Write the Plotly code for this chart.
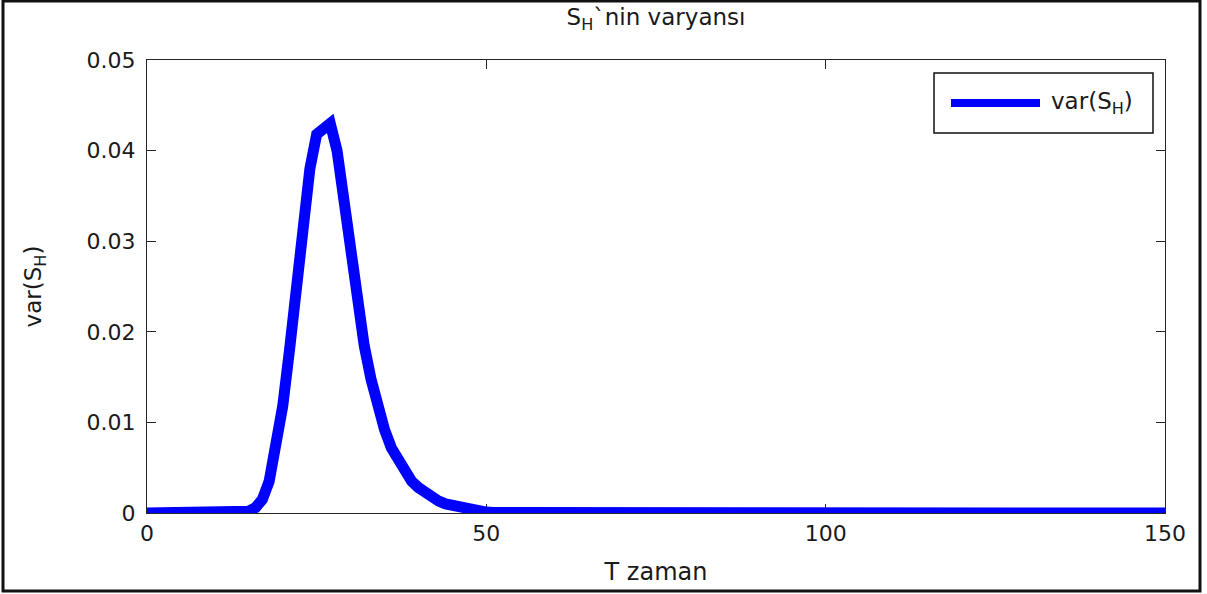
import plotly.graph_objects as go

# Time axis (T zaman) and the variance of S_H at each step
t_values = list(range(0, 151))
var_nonzero = {
    15: 0.0002, 16: 0.0006, 17: 0.0015, 18: 0.0035, 19: 0.0070,
    20: 0.0118, 21: 0.0180, 22: 0.0250, 23: 0.0320, 24: 0.0380,
    25: 0.0418, 26: 0.0424, 27: 0.0430, 28: 0.0400, 29: 0.0345,
    30: 0.0285, 31: 0.0230, 32: 0.0185, 33: 0.0148, 34: 0.0118,
    35: 0.0092, 36: 0.0072, 37: 0.0058, 38: 0.0045, 39: 0.0035,
    40: 0.0028, 41: 0.0022, 42: 0.0017, 43: 0.0013, 44: 0.0010,
    45: 0.0008, 46: 0.0006, 47: 0.0004, 48: 0.0003, 49: 0.0002,
    50: 0.0001, 51: 0.00005, 52: 0.00005,
}
var_sh = [var_nonzero.get(t, 0.0) for t in t_values]

x_ticks = [0, 50, 100, 150]
y_ticks = [0, 0.01, 0.02, 0.03, 0.04, 0.05]
y_tick_text = ["0", "0.01", "0.02", "0.03", "0.04", "0.05"]

series_name = "var(S<sub>H</sub>)"
LINE_COLOR = "#0000ff"
TEXT_COLOR = "#1a1a1a"
FONT = "DejaVu Sans, Arial, sans-serif"

W, H = 1207, 594
L, R, T, B = 147, 42, 60, 81
pw, ph = W - L - R, H - T - B


def px_x(px):
    """Pixel column -> paper x."""
    return (px - L) / pw


def px_y(py):
    """Pixel row -> paper y."""
    return (H - B - py) / ph


fig = go.Figure()
fig.add_trace(go.Scatter(
    x=t_values, y=var_sh, mode="lines",
    line=dict(color=LINE_COLOR, width=11),
    name=series_name, showlegend=False,
))

axis_common = dict(
    showline=True, linecolor="#262626", linewidth=1.2, mirror="allticks",
    ticks="inside", ticklen=9, tickcolor="#262626", tickwidth=1.2,
    showgrid=False, zeroline=False, layer="below traces",
    tickfont=dict(family=FONT, size=22, color=TEXT_COLOR),
)

# Legend box drawn with shapes so the sample line is as long as in a MATLAB legend
legend_shapes = [
    dict(type="rect", xref="paper", yref="paper",
         x0=px_x(934), x1=px_x(1153), y0=px_y(133), y1=px_y(73),
         line=dict(color="#111", width=1.5), fillcolor="white", layer="above"),
    dict(type="line", xref="paper", yref="paper",
         x0=px_x(951), x1=px_x(1040), y0=px_y(103), y1=px_y(103),
         line=dict(color=LINE_COLOR, width=8), layer="above"),
]
frame_shape = dict(type="rect", xref="paper", yref="paper",
                   x0=px_x(3), x1=px_x(1200), y0=px_y(591), y1=px_y(1),
                   line=dict(color="#111", width=3), fillcolor="rgba(0,0,0,0)", layer="below")

fig.update_layout(
    width=W, height=H,
    margin=dict(l=L, r=R, t=T, b=B),
    paper_bgcolor="white", plot_bgcolor="white",
    title=dict(text="S<sub>H</sub>`nin varyansı", x=(L + pw / 2) / W, xanchor="center",
               y=1 - 17 / H, yanchor="middle",
               font=dict(family=FONT, size=23, color=TEXT_COLOR)),
    xaxis=dict(range=[0, 150], tickvals=x_ticks, ticktext=[str(v) for v in x_ticks],
               title=dict(text="T zaman", font=dict(family=FONT, size=24, color=TEXT_COLOR), standoff=18),
               **axis_common),
    yaxis=dict(range=[0, 0.05], tickvals=y_ticks, ticktext=y_tick_text, ticklabelstandoff=6,
               title=dict(text=series_name, font=dict(family=FONT, size=23, color=TEXT_COLOR), standoff=38),
               **axis_common),
    showlegend=False,
    shapes=[frame_shape] + legend_shapes,
    annotations=[dict(text=series_name, xref="paper", yref="paper",
                      x=px_x(1049), y=px_y(103), xanchor="left", yanchor="middle",
                      showarrow=False, font=dict(family=FONT, size=23, color=TEXT_COLOR))],
)

fig.write_html("out.html")
